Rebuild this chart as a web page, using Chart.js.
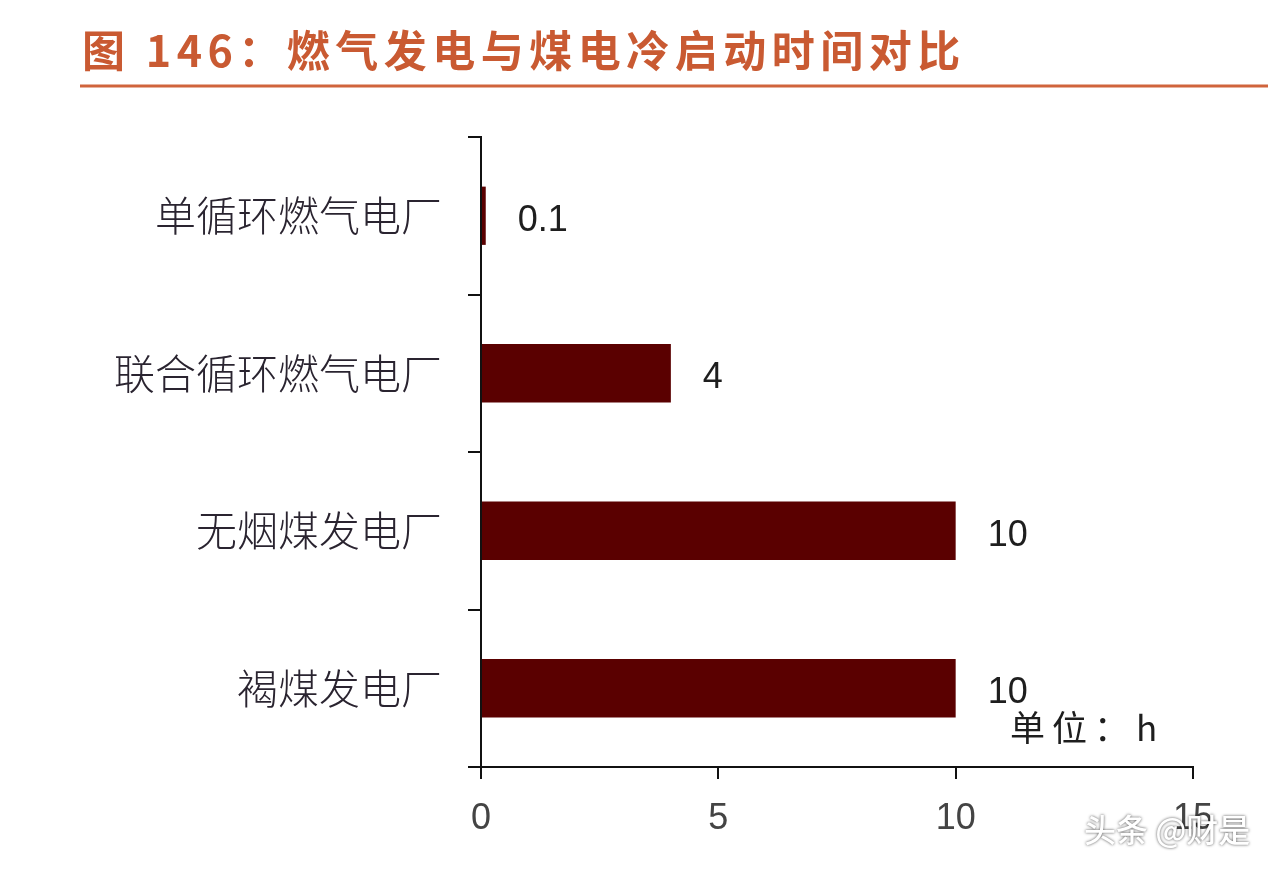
<!DOCTYPE html>
<html>
<head>
<meta charset="utf-8">
<script src="https://cdn.jsdelivr.net/npm/chart.js@4/dist/chart.umd.min.js"></script>
<style>
  html, body { margin: 0; padding: 0; background: #fff; }
  #wrap { width: 1280px; height: 872px; position: relative; }
</style>
</head>
<body>
<div id="wrap"><canvas id="chart" width="1280" height="872"></canvas></div>
<script>
// 数据
const categories = ['单循环燃气电厂', '联合循环燃气电厂', '无烟煤发电厂', '褐煤发电厂'];
const hours = [0.1, 4, 10, 10];
const valueLabels = ['0.1', '4', '10', '10'];
const xTicks = [0, 5, 10, 15];

const titleText = '图 146：燃气发电与煤电冷启动时间对比';
const unitText = '单位：h';
const watermark = '头条 @财是';

const cjk = '"Noto Sans CJK SC", "Noto Sans", sans-serif';
const latin = '"Liberation Sans", Arial, sans-serif';

// 标题、数值、单位、水印
const decor = {
  id: 'decor',
  afterDraw(chart) {
    const ctx = chart.ctx;
    const x = chart.scales.x;
    const y = chart.scales.y;
    ctx.save();

    // 标题
    ctx.fillStyle = '#c95a32';
    ctx.font = 'bold 43px ' + cjk;
    ctx.textBaseline = 'middle';
    ctx.textAlign = 'left';
    ctx.letterSpacing = '5.5px';
    ctx.fillText(titleText, 82, 51);
    ctx.letterSpacing = '0px';
    ctx.strokeStyle = '#d0643c';
    ctx.lineWidth = 3;
    ctx.beginPath();
    ctx.moveTo(80, 86);
    ctx.lineTo(1268, 86);
    ctx.stroke();

    // 数值标签
    ctx.fillStyle = '#1e1e1e';
    ctx.font = '36px ' + latin;
    hours.forEach((v, i) => {
      const px = x.getPixelForValue(v);
      const py = y.getPixelForValue(i);
      ctx.fillText(valueLabels[i], px + 32, py + 5);
    });

    // 单位
    ctx.font = '35px ' + cjk;
    ctx.letterSpacing = '7px';
    ctx.fillStyle = '#1e1e1e';
    ctx.fillText(unitText, 1010, 728);
    ctx.letterSpacing = '0px';

    // 水印
    ctx.font = '500 32px ' + cjk;
    ctx.shadowColor = 'rgba(0,0,0,0.7)';
    ctx.shadowBlur = 3;
    ctx.fillStyle = '#ffffff';
    ctx.fillText(watermark, 1084, 830);
    ctx.restore();
  }
};

new Chart(document.getElementById('chart'), {
  type: 'bar',
  data: {
    labels: categories,
    datasets: [{
      data: hours,
      backgroundColor: '#5a0000',
      borderWidth: 0,
      barPercentage: 0.37,
      categoryPercentage: 1
    }]
  },
  options: {
    indexAxis: 'y',
    responsive: false,
    animation: false,
    layout: { padding: { top: 137, right: 87, left: 0, bottom: 0 } },
    plugins: {
      legend: { display: false },
      tooltip: { enabled: false }
    },
    scales: {
      x: {
        min: 0,
        max: 15,
        afterBuildTicks(scale) {
          scale.ticks = xTicks.map(v => ({ value: v }));
        },
        afterFit(scale) { scale.height = 105; },
        border: { display: true, color: '#111', width: 2 },
        grid: {
          drawOnChartArea: false,
          drawTicks: true,
          tickLength: 12,
          color: '#111',
          lineWidth: 2
        },
        ticks: {
          color: '#444',
          padding: 18,
          font: { family: latin, size: 36 }
        }
      },
      y: {
        afterFit(scale) { scale.width = 481; },
        border: { display: true, color: '#111', width: 2 },
        grid: {
          offset: true,
          drawOnChartArea: false,
          drawTicks: true,
          tickLength: 13,
          color: '#111',
          lineWidth: 2
        },
        ticks: {
          color: '#2a2430',
          padding: 26,
          font: { family: cjk, size: 41, weight: 300 }
        }
      }
    }
  },
  plugins: [decor]
});
</script>
</body>
</html>
